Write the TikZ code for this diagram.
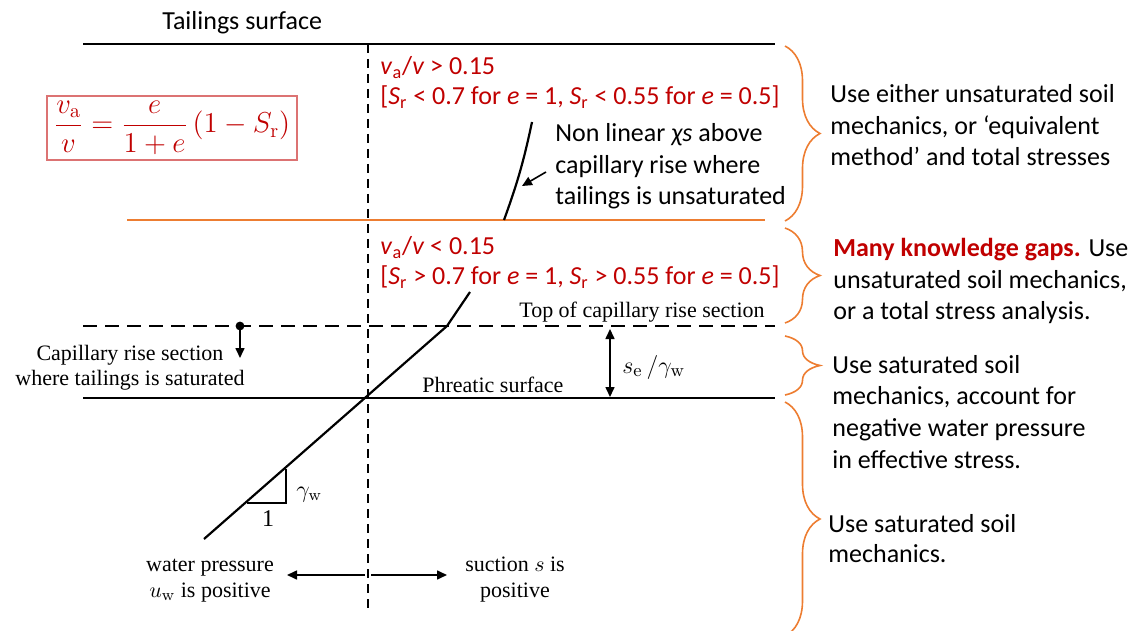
\documentclass[tikz,border=0pt]{standalone}
\usepackage{amsmath}
\usepackage[no-math]{fontspec}
\setmainfont{Carlito}
\newfontfamily\serif{Liberation Serif}
\usetikzlibrary{arrows.meta,positioning,decorations.pathreplacing,calc}
\definecolor{tang}{HTML}{ED7D31}
\definecolor{crim}{HTML}{C00000}

\begin{document}
\begin{tikzpicture}[x=0.5pt,y=-0.5pt,
  tx/.style={font=\fontsize{13}{15.8}\selectfont,align=left,anchor=base west,inner sep=0pt},
  rd/.style={tx,text=crim,font=\fontsize{13}{15}\selectfont},
  sf/.style={font=\serif\fontsize{11}{13}\selectfont,inner sep=0pt,align=center,anchor=base},
  ln/.style={line width=1pt},
  dsh/.style={line width=0.9pt,dash pattern=on 7pt off 4pt},
  vdsh/.style={line width=0.8pt,dash pattern=on 4.5pt off 3pt},
  ar/.style={-{Triangle[length=5pt,width=4.5pt]},line width=0.8pt},
  br/.style={tang,line width=0.8pt,decorate,decoration={brace,amplitude=17.5pt}}]
  \useasboundingbox (0,0) rectangle (1142,631);
  % levels
  \coordinate (ts0) at (83,44);   \coordinate (ts1) at (775,44);
  \coordinate (or0) at (127,220); \coordinate (or1) at (765,220);
  \coordinate (cp0) at (83,326);  \coordinate (cp1) at (775,326);
  \coordinate (ph0) at (83,398);  \coordinate (ph1) at (775,398);
  \coordinate (ax0) at (368,44);  \coordinate (ax1) at (368,612);
  \draw[ln] (ts0) -- (ts1);
  \draw[tang,line width=1.1pt] (or0) -- (or1);
  \draw[dsh] (cp0) -- (cp1);
  \draw[ln] (ph0) -- (ph1);
  \draw[vdsh] (ax0) -- (ax1);
  % pressure profile
  \coordinate (c0) at (504,220); \coordinate (c1) at (532,122);
  \draw[line width=1.1pt] (c0) to[bend right=4] (c1);
  \coordinate (k0) at (470,292); \coordinate (k1) at (447,326); \coordinate (k2) at (204,539);
  \draw[line width=1.1pt] (k0) -- (k1) -- (k2);
  \coordinate (t0) at (247,503); \coordinate (t1) at (286,503); \coordinate (t2) at (286,469);
  \draw[line width=0.8pt] (t0) -- (t1) -- (t2);
  % texts (multi-line nodes sit on their last baseline)
  \node[tx] (tsurf) at (162,30) {Tailings surface};
  \node[draw=crim!55,line width=0.6pt,minimum width=125pt,minimum height=32pt,text=crim,
        inner xsep=3pt,inner ysep=0.5pt,font=\fontsize{14}{16}\selectfont] (eqn) at (172,128)
        {$\dfrac{v_{\mathrm{a}}}{v}=\dfrac{e}{1+e}\,(1-S_{\mathrm{r}})$};
  \node[rd] (uplim) at (380,105) {\textit{v}\textsubscript{a}/\textit{v} > 0.15\\{}[\textit{S}\textsubscript{r} < 0.7 for \textit{e} = 1, \textit{S}\textsubscript{r} < 0.55 for \textit{e} = 0.5]};
  \node[rd] (lowlim) at (380,285) {\textit{v}\textsubscript{a}/\textit{v} < 0.15\\{}[\textit{S}\textsubscript{r} > 0.7 for \textit{e} = 1, \textit{S}\textsubscript{r} > 0.55 for \textit{e} = 0.5]};
  \node[tx] (nonlin) at (555,205) {Non linear \textit{χs} above\\capillary rise where\\tailings is unsaturated};
  \node[sf,anchor=base east] (topcap) at (765,317) {Top of capillary rise section};
  \node[sf,font=\serif\fontsize{11}{12.5}\selectfont] (capsec) at (130,385) {Capillary rise section\\where tailings is saturated};
  \node[sf,anchor=base west] (phreat) at (422,392) {Phreatic surface};
  \node[sf] (wp) at (210,597) {water pressure\\$u_{\mathrm{w}}$ is positive};
  \node[sf] (suc) at (515,597) {suction $s$ is\\positive};
  \node[sf,anchor=base west,font=\serif\fontsize{13}{15}\selectfont] (sew) at (622,373) {$s_{\mathrm{e}}\,/\gamma_{\mathrm{w}}$};
  \node[sf,anchor=base west,font=\serif\fontsize{12}{14}\selectfont] (gw) at (296,497) {$\gamma_{\mathrm{w}}$};
  \node[sf,font=\serif\fontsize{12}{14}\selectfont] (one) at (268,526) {1};
  % arrows
  \coordinate (nt) at (546,172); \coordinate (nh) at (522,186);
  \draw[ar] (nt) -- (nh);
  \coordinate (dot) at (240,326); \coordinate (dotend) at (240,358);
  \fill (dot) circle (2.2pt);
  \draw[ar] (dot) -- (dotend);
  \coordinate (se0) at (610,329); \coordinate (se1) at (610,397);
  \draw[ar,{Triangle[length=5pt,width=4.5pt]}-{Triangle[length=5pt,width=4.5pt]}] (se0) -- (se1);
  \coordinate (lw0) at (365,575); \coordinate (lw1) at (287,575);
  \coordinate (rs0) at (371,575); \coordinate (rs1) at (447,575);
  \draw[ar] (lw0) -- (lw1);
  \draw[ar] (rs0) -- (rs1);
  % braces and advice
  \draw[br] (785,46) -- (785,221);
  \draw[br] (785,228) -- (785,323);
  \draw[br] (785,336) -- (785,395);
  \draw[br] (785,402) -- (785,636);
  \node[tx] (m1) at (830,166) {Use either unsaturated soil\\mechanics, or ‘equivalent\\method’ and total stresses};
  \node[tx] (m2) at (833,320) {\textcolor{crim}{\bfseries Many knowledge gaps.} Use\\unsaturated soil mechanics,\\or a total stress analysis.};
  \node[tx] (m3) at (832,468) {Use saturated soil\\mechanics, account for\\negative water pressure\\in effective stress.};
  \node[tx,font=\fontsize{13}{15}\selectfont] (m4) at (828,562) {Use saturated soil\\mechanics.};
\end{tikzpicture}
\end{document}
